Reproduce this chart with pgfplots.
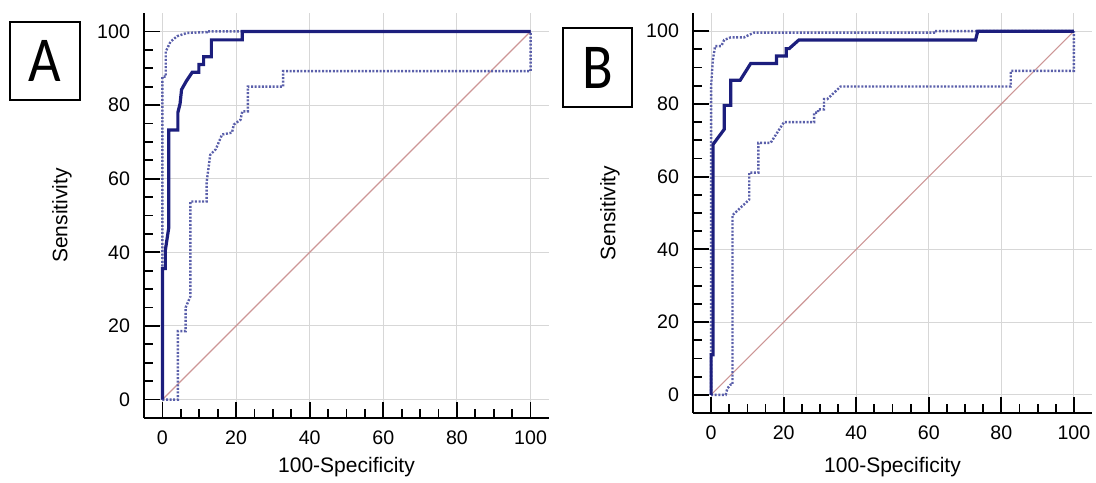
\documentclass[border=0pt]{standalone}
\usepackage{fontspec}
\setmainfont{Liberation Sans}
\newfontfamily\panelfont{Carlito}
\usepackage{pgfplots}
\pgfplotsset{compat=1.18}

\definecolor{roc}{RGB}{28,30,125}
\definecolor{ci}{RGB}{90,95,170}
\definecolor{diag}{RGB}{205,150,150}
\definecolor{gridc}{RGB}{215,215,215}

\pgfplotsset{
  rocaxis/.style={
    scale only axis,
    xmin=-5, xmax=105, ymin=-5, ymax=105,
    axis x line*=bottom, axis y line*=left,
    axis line style={black, line width=1pt},
    xtick={0,20,...,100}, ytick={0,20,...,100},
    minor tick num=3,
    tick align=inside,
    major tick length=8pt, minor tick length=4.5pt,
    tick style={black, line width=0.9pt},
    grid=major,
    major grid style={gridc, line width=0.5pt},
    tick label style={font=\fontsize{9.8}{11}\selectfont},
    /pgf/number format/assume math mode=true,
    yticklabel style={xshift=-3.5pt},
    xticklabel style={yshift=-3pt},
    label style={font=\fontsize{10.5}{12}\selectfont},
    xlabel={100-Specificity},
    ylabel={Sensitivity},
  },
  rocline/.style={roc, line width=1.6pt, line join=miter},
  ciline/.style={ci, line width=1.2pt, dash pattern=on 1pt off 0.8pt},
  diagline/.style={diag, line width=0.55pt},
}

\begin{document}
\begin{tikzpicture}
\useasboundingbox (-72pt,-32pt) rectangle (476pt,209pt);

% panel A
\begin{axis}[rocaxis,
  at={(0pt,0pt)}, anchor=south west,
  width=202.5pt, height=202.5pt,
  x label style={at={(axis description cs:0.5,-0.121)}, anchor=center},
  y label style={at={(axis description cs:-0.2025,0.5)}, anchor=center},
]
\addplot[diagline] coordinates {(0,0) (100,100)};
% lower confidence bound
\addplot[ciline] coordinates {
(0,0) (4.2,0) (4.2,18.6) (6.3,18.6) (6.3,25) (7.6,28) (7.6,53.8) (12,53.8)
(12,59) (13,66.5) (14.5,68) (16.2,72) (18.9,72.5) (19.4,74.7) (21.2,76)
(21.7,78.3) (23.2,78.3) (23.2,85) (32.8,85) (32.8,89.2) (100,89.2) (100,100)
};
% upper confidence bound
\addplot[ciline] coordinates {
(0,0) (0,87.7) (0.9,87.7) (0.9,94.5) (2.2,97.2) (4,98.7) (6.7,99.6)
(12,99.8) (12,100) (100,100)
};
% ROC curve
\addplot[rocline] coordinates {
(0,0) (0,35.6) (0.8,35.6) (0.8,40.6) (1.7,46.5) (1.7,73.2) (4.2,73.2)
(4.2,78) (4.8,80.4) (5.2,84.2) (6.5,86.5) (8.1,88.9) (9.9,88.9) (9.9,91)
(11.2,91) (11.2,93.1) (13.3,93.1) (13.3,97.7) (21.7,97.7) (21.7,100) (100,100)
};
\end{axis}

% panel B
\begin{axis}[rocaxis,
  at={(274.5pt,2.5pt)}, anchor=south west,
  width=199.5pt, height=200pt,
  x label style={at={(axis description cs:0.5,-0.135)}, anchor=center},
  y label style={at={(axis description cs:-0.208,0.5)}, anchor=center},
]
\addplot[diagline] coordinates {(0,0) (100,100)};
% lower confidence bound
\addplot[ciline] coordinates {
(0,0) (4,0) (4.5,1.8) (5.4,2.8) (5.9,2.8) (5.9,49.4) (10.5,53.7) (10.5,61.1)
(13,61.1) (13,69.3) (16.4,69.3) (20.1,75) (28.4,75) (28.4,77.6) (29.5,77.6)
(29.5,78.5) (31.1,78.5) (31.1,81.3) (32,81.3) (35.7,84.8) (82.6,84.8)
(82.6,89.1) (100,89.1) (100,100)
};
% upper confidence bound
\addplot[ciline] coordinates {
(0,0) (0,85) (0.5,92.3) (1.1,95.9) (2.8,95.9) (3.6,97.6) (5.4,98.3)
(9.1,98.3) (10.5,99) (11.8,99.6) (61.4,99.6) (61.4,100) (100,100)
};
% ROC curve
\addplot[rocline] coordinates {
(0,0) (0,11) (0.55,11) (0.55,68.9) (3.6,73) (3.6,79.6) (5.4,79.6) (5.4,86.5)
(8,86.5) (10.9,91.1) (18,91.1) (18,93.2) (20.7,93.2) (20.7,95.2) (21.5,95.2)
(24.2,97.6) (72.9,97.6) (73.5,100) (100,100)
};
\end{axis}

% panel letters
\node[draw=black, line width=0.8pt, minimum width=35pt, minimum height=39pt,
  inner sep=0pt] at (-49.5pt,178.5pt)
  {\scalebox{0.88}[1]{\panelfont\fontsize{32}{32}\selectfont A}};
\node[draw=black, line width=0.8pt, minimum width=34.5pt, minimum height=39.5pt,
  inner sep=0pt] at (226.75pt,175.25pt)
  {\scalebox{0.88}[1]{\panelfont\fontsize{32}{32}\selectfont B}};
\end{tikzpicture}
\end{document}
